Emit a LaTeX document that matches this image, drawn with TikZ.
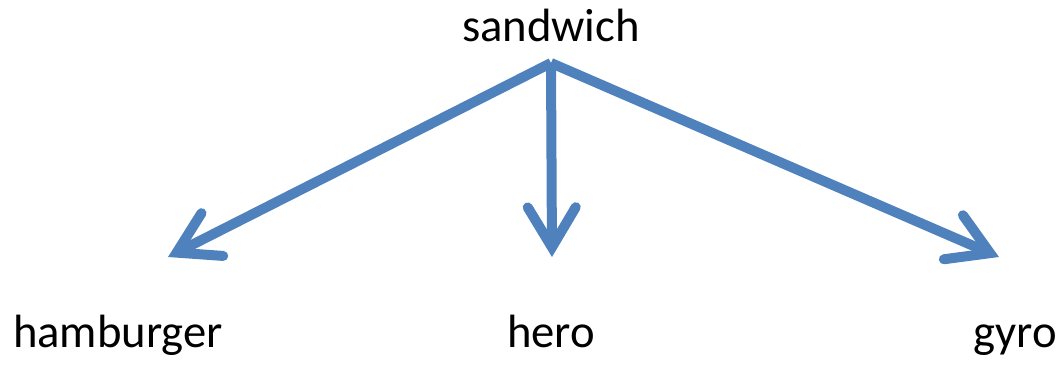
\documentclass[tikz,border=0pt]{standalone}
\usepackage{fontspec}
\setmainfont{Carlito}
\usepackage{tikz}
\usetikzlibrary{arrows.meta}
\definecolor{officeblue}{HTML}{4F81BD}

\begin{document}
\begin{tikzpicture}[x=0.75pt,y=-0.75pt,
	word/.style={anchor=base,font=\fontsize{35}{40}\selectfont},
	branch/.style={draw=officeblue,line width=7.5pt,
		-{Straight Barb[length=30pt,width=36pt,line cap=round,line join=miter]}}]
	\useasboundingbox (0,0) rectangle (1064,374);

	% the words
	\node[word] (sandwich) at (551,42) {sandwich};
	\node[word] (hamburger) at (118,347) {hamburger};
	\node[word] (hero) at (551,347) {hero};
	\node[word] (gyro) at (1015,347) {gyro};

	% where the arrows start and stop
	\coordinate (fork) at (551,63);
	\coordinate (leftend) at (168,257);
	\coordinate (midend) at (552,257);
	\coordinate (rightend) at (999,257);

	\draw[branch] (fork) -- (leftend);
	\draw[branch] (fork) -- (midend);
	\draw[branch] (fork) -- (rightend);
\end{tikzpicture}
\end{document}
